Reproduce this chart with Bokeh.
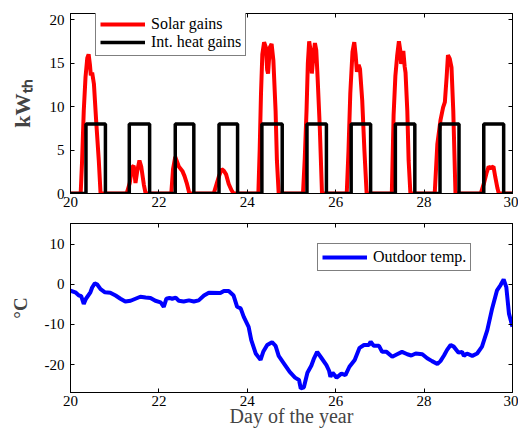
from bokeh.plotting import figure
from bokeh.layouts import column
from bokeh.models import Range1d, LinearAxis, FixedTicker, Legend, LegendItem
from bokeh.embed import file_html
from bokeh.resources import INLINE

# ---------------- data ----------------
solar_day = [20.00, 20.23, 20.26, 20.30, 20.34, 20.38, 20.41, 20.44, 20.46, 20.49, 20.53, 20.58, 20.64, 20.68,
             21.27, 21.34, 21.39, 21.43, 21.47, 21.51, 21.56, 21.60, 21.66, 21.70,
             22.28, 22.32, 22.37, 22.40, 22.45, 22.53, 22.58, 22.63, 22.69,
             23.24, 23.30, 23.36, 23.42, 23.47, 23.52, 23.58, 23.64, 23.69,
             24.25, 24.28, 24.31, 24.34, 24.38, 24.42, 24.45, 24.47, 24.51, 24.55, 24.59, 24.64, 24.67, 24.71,
             25.26, 25.30, 25.34, 25.37, 25.40, 25.43, 25.46, 25.49, 25.53, 25.56, 25.59, 25.64, 25.69,
             26.25, 26.29, 26.33, 26.38, 26.42, 26.45, 26.48, 26.52, 26.55, 26.60, 26.65, 26.70,
             27.27, 27.31, 27.35, 27.39, 27.43, 27.46, 27.48, 27.53, 27.56, 27.58, 27.62, 27.65, 27.69,
             28.24, 28.30, 28.37, 28.43, 28.47, 28.51, 28.54, 28.58, 28.62, 28.66, 28.69, 28.71,
             29.28, 29.35, 29.41, 29.46, 29.50, 29.53, 29.57, 29.61, 29.66, 29.69, 30.00]
solar_kw = [0, 0, 3.5, 9.5, 13.4, 15.6, 16.0, 14.8, 13.6, 13.9, 12.6, 8.4, 3.8, 0,
            0, 1.2, 3.0, 3.2, 1.2, 2.6, 3.8, 3.1, 1.0, 0,
            0, 2.8, 4.2, 3.8, 3.1, 2.6, 2.0, 1.2, 0,
            0, 1.0, 2.0, 2.8, 2.6, 2.2, 1.1, 0.4, 0,
            0, 5.0, 11.5, 16.0, 17.4, 16.8, 14.2, 13.8, 16.8, 17.2, 15.3, 9.5, 3.8, 0,
            0, 4.0, 9.5, 15.0, 17.5, 16.5, 13.8, 15.5, 17.3, 16.5, 13.4, 7.6, 0,
            0, 5.0, 11.5, 16.3, 17.4, 16.0, 14.0, 14.8, 14.3, 10.7, 4.9, 0,
            0, 9.0, 13.5, 15.8, 17.5, 16.5, 14.9, 16.4, 14.6, 13.9, 9.5, 3.8, 0,
            0, 5.7, 8.4, 9.9, 10.5, 13.4, 15.9, 15.5, 14.5, 9.5, 3.8, 0,
            0, 1.1, 2.3, 3.1, 2.9, 3.0, 3.1, 1.9, 0.6, 0, 0]

heat_start = [20.35, 21.33, 22.37, 23.36, 24.33, 25.35, 26.35, 27.35, 28.36, 29.35]
heat_end = [20.79, 21.79, 22.79, 23.78, 24.79, 25.79, 26.79, 27.79, 28.79, 29.80]
heat_level = 8

temp_day = [20.00, 20.11, 20.19, 20.24, 20.30, 20.35, 20.45, 20.49, 20.55, 20.60, 20.68, 20.78, 20.90,
            21.02, 21.13, 21.24, 21.36, 21.47, 21.58, 21.70, 21.81, 21.92,
            22.04, 22.11, 22.17, 22.24, 22.30, 22.38, 22.45, 22.56, 22.68, 22.79, 22.90,
            23.02, 23.13, 23.39, 23.47, 23.58, 23.69, 23.77, 23.85, 23.92,
            24.03, 24.09, 24.19, 24.30, 24.36, 24.45, 24.56, 24.64, 24.71, 24.83, 24.96,
            25.08, 25.17, 25.21, 25.28, 25.36, 25.45, 25.51, 25.58, 25.67, 25.79, 25.85, 25.88, 25.93,
            26.02, 26.13, 26.22, 26.31, 26.43, 26.54, 26.64, 26.75, 26.79, 26.86, 26.98,
            27.05, 27.15, 27.28, 27.39, 27.50, 27.62, 27.71, 27.81, 27.96,
            28.07, 28.18, 28.30, 28.37, 28.45, 28.52, 28.60, 28.67, 28.78, 28.86, 28.90, 28.97,
            29.09, 29.20, 29.31, 29.43, 29.54, 29.65, 29.73, 29.80, 29.86, 29.92, 29.99, 30.00]
temp_c = [-1.6, -2.0, -2.8, -2.9, -4.9, -3.6, -2.0, -0.8, 0.2, 0.0, -1.2, -2.0, -2.1,
          -2.8, -3.6, -4.3, -4.1, -3.6, -3.1, -3.3, -3.4, -4.1,
          -4.5, -5.6, -3.6, -3.4, -3.6, -3.3, -4.1, -4.3, -4.0, -4.3, -4.0,
          -2.8, -2.1, -2.2, -1.7, -1.7, -2.8, -5.6, -6.0, -8.1,
          -10.6, -13.9, -17.2, -18.8, -16.8, -15.1, -14.4, -15.3, -17.8, -19.7, -21.8,
          -23.2, -23.8, -25.9, -25.6, -22.0, -20.2, -18.4, -16.8, -18.2, -20.1, -21.5, -23.0, -22.0,
          -23.2, -22.2, -22.6, -20.5, -18.8, -15.8, -15.1, -15.1, -14.3, -15.3, -15.3,
          -16.8, -16.8, -18.0, -17.4, -16.8, -17.4, -17.7, -17.2, -17.4,
          -18.4, -19.1, -19.8, -19.1, -17.7, -16.3, -15.1, -15.5, -17.0, -16.8, -17.8, -17.2,
          -17.8, -17.2, -15.5, -11.4, -6.0, -1.5, -0.2, 1.2, -0.7, -7.3, -10.2, -10.5]

x_ticks = [20, 22, 24, 26, 28, 30]
top_y_ticks = [0, 5, 10, 15, 20]
bot_y_ticks = [-20, -10, 0, 10]
bot_y_labels = ["-20", "-10", "0", "10"]

FONT = "Liberation Serif"

# step series for internal gains, built from the pulse edges
heat_x = [20.0]
heat_y = [0]
for s, e in zip(heat_start, heat_end):
    heat_x += [s, s, e, e]
    heat_y += [0, heat_level, heat_level, 0]
heat_x.append(30.0)
heat_y.append(0)


def style(p, yticks, ylabels=None):
    p.outline_line_color = "black"
    p.outline_line_width = 1
    p.xgrid.visible = False
    p.ygrid.visible = False
    xa = p.xaxis[0]
    ya = p.yaxis[0]
    xa.ticker = FixedTicker(ticks=x_ticks)
    ya.ticker = FixedTicker(ticks=yticks)
    if ylabels is not None:
        ya.major_label_overrides = {t: l for t, l in zip(yticks, ylabels)}
    for ax in (xa, ya):
        ax.major_tick_in = 4
        ax.major_tick_out = 0
        ax.minor_tick_line_color = None
        ax.axis_line_color = "black"
        ax.major_tick_line_color = "black"
        ax.major_label_text_font = FONT
        ax.major_label_text_font_size = "15px"
        ax.major_label_text_color = "black"
    xa.major_label_standoff = 3
    ya.major_label_standoff = 6
    for loc, ticks in (("above", x_ticks), ("right", yticks)):
        ax = LinearAxis(ticker=FixedTicker(ticks=ticks),
                        major_label_overrides={t: "" for t in ticks},
                        major_label_text_font_size="0px", major_label_standoff=0,
                        major_tick_in=4, major_tick_out=0,
                        minor_tick_line_color=None, axis_line_color="black",
                        major_tick_line_color="black")
        p.add_layout(ax, loc)
    return xa, ya


def make_legend(items, loc):
    return Legend(items=items, location=loc, border_line_color="black", border_line_width=1,
                  background_fill_color="white", background_fill_alpha=1,
                  label_text_font=FONT, label_text_font_size="16px", label_text_color="black",
                  glyph_width=45, glyph_height=14, label_height=14, label_standoff=6,
                  padding=4, spacing=0, margin=0)


# ---------------- top panel ----------------
p1 = figure(width=518, height=214, x_range=Range1d(20, 30), y_range=Range1d(0, 20.7),
            output_backend="svg", toolbar_location=None,
            min_border_left=70, min_border_right=6, min_border_top=13, min_border_bottom=21,
            background_fill_color="white", border_fill_color="white")
xa1, ya1 = style(p1, top_y_ticks)
r_sol = p1.line(solar_day, solar_kw, line_color="#ff0000", line_width=4)
r_int = p1.line(heat_x, heat_y, line_color="black", line_width=3.5)
p1.add_layout(make_legend([LegendItem(label="Solar gains", renderers=[r_sol]),
                           LegendItem(label="Int. heat gains", renderers=[r_int])], (25, 137)))
ya1.axis_label = "kW\u209c\u2095"
ya1.axis_label_text_font = FONT
ya1.axis_label_text_font_style = "bold"
ya1.axis_label_text_font_size = "22px"
ya1.axis_label_standoff = 12

# ---------------- bottom panel ----------------
p2 = figure(width=518, height=216, x_range=Range1d(20, 30), y_range=Range1d(-26.9, 15.1),
            output_backend="svg", toolbar_location=None,
            min_border_left=70, min_border_right=6, min_border_top=9, min_border_bottom=38,
            background_fill_color="white", border_fill_color="white")
xa2, ya2 = style(p2, bot_y_ticks, bot_y_labels)
r_t = p2.line(temp_day, temp_c, line_color="#0000ff", line_width=4)
p2.add_layout(make_legend([LegendItem(label="Outdoor temp.", renderers=[r_t])], (247, 121)))
ya2.axis_label = "°C"
ya2.axis_label_text_font = FONT
ya2.axis_label_text_font_style = "bold"
ya2.axis_label_text_font_size = "19px"
ya2.axis_label_standoff = 11
xa2.axis_label = "Day of the year"
xa2.axis_label_text_font = FONT
xa2.axis_label_text_font_style = "normal"
xa2.axis_label_text_font_size = "20px"
xa2.axis_label_standoff = -4

layout = column(p1, p2)
open("out.html", "w").write(file_html(layout, INLINE))
